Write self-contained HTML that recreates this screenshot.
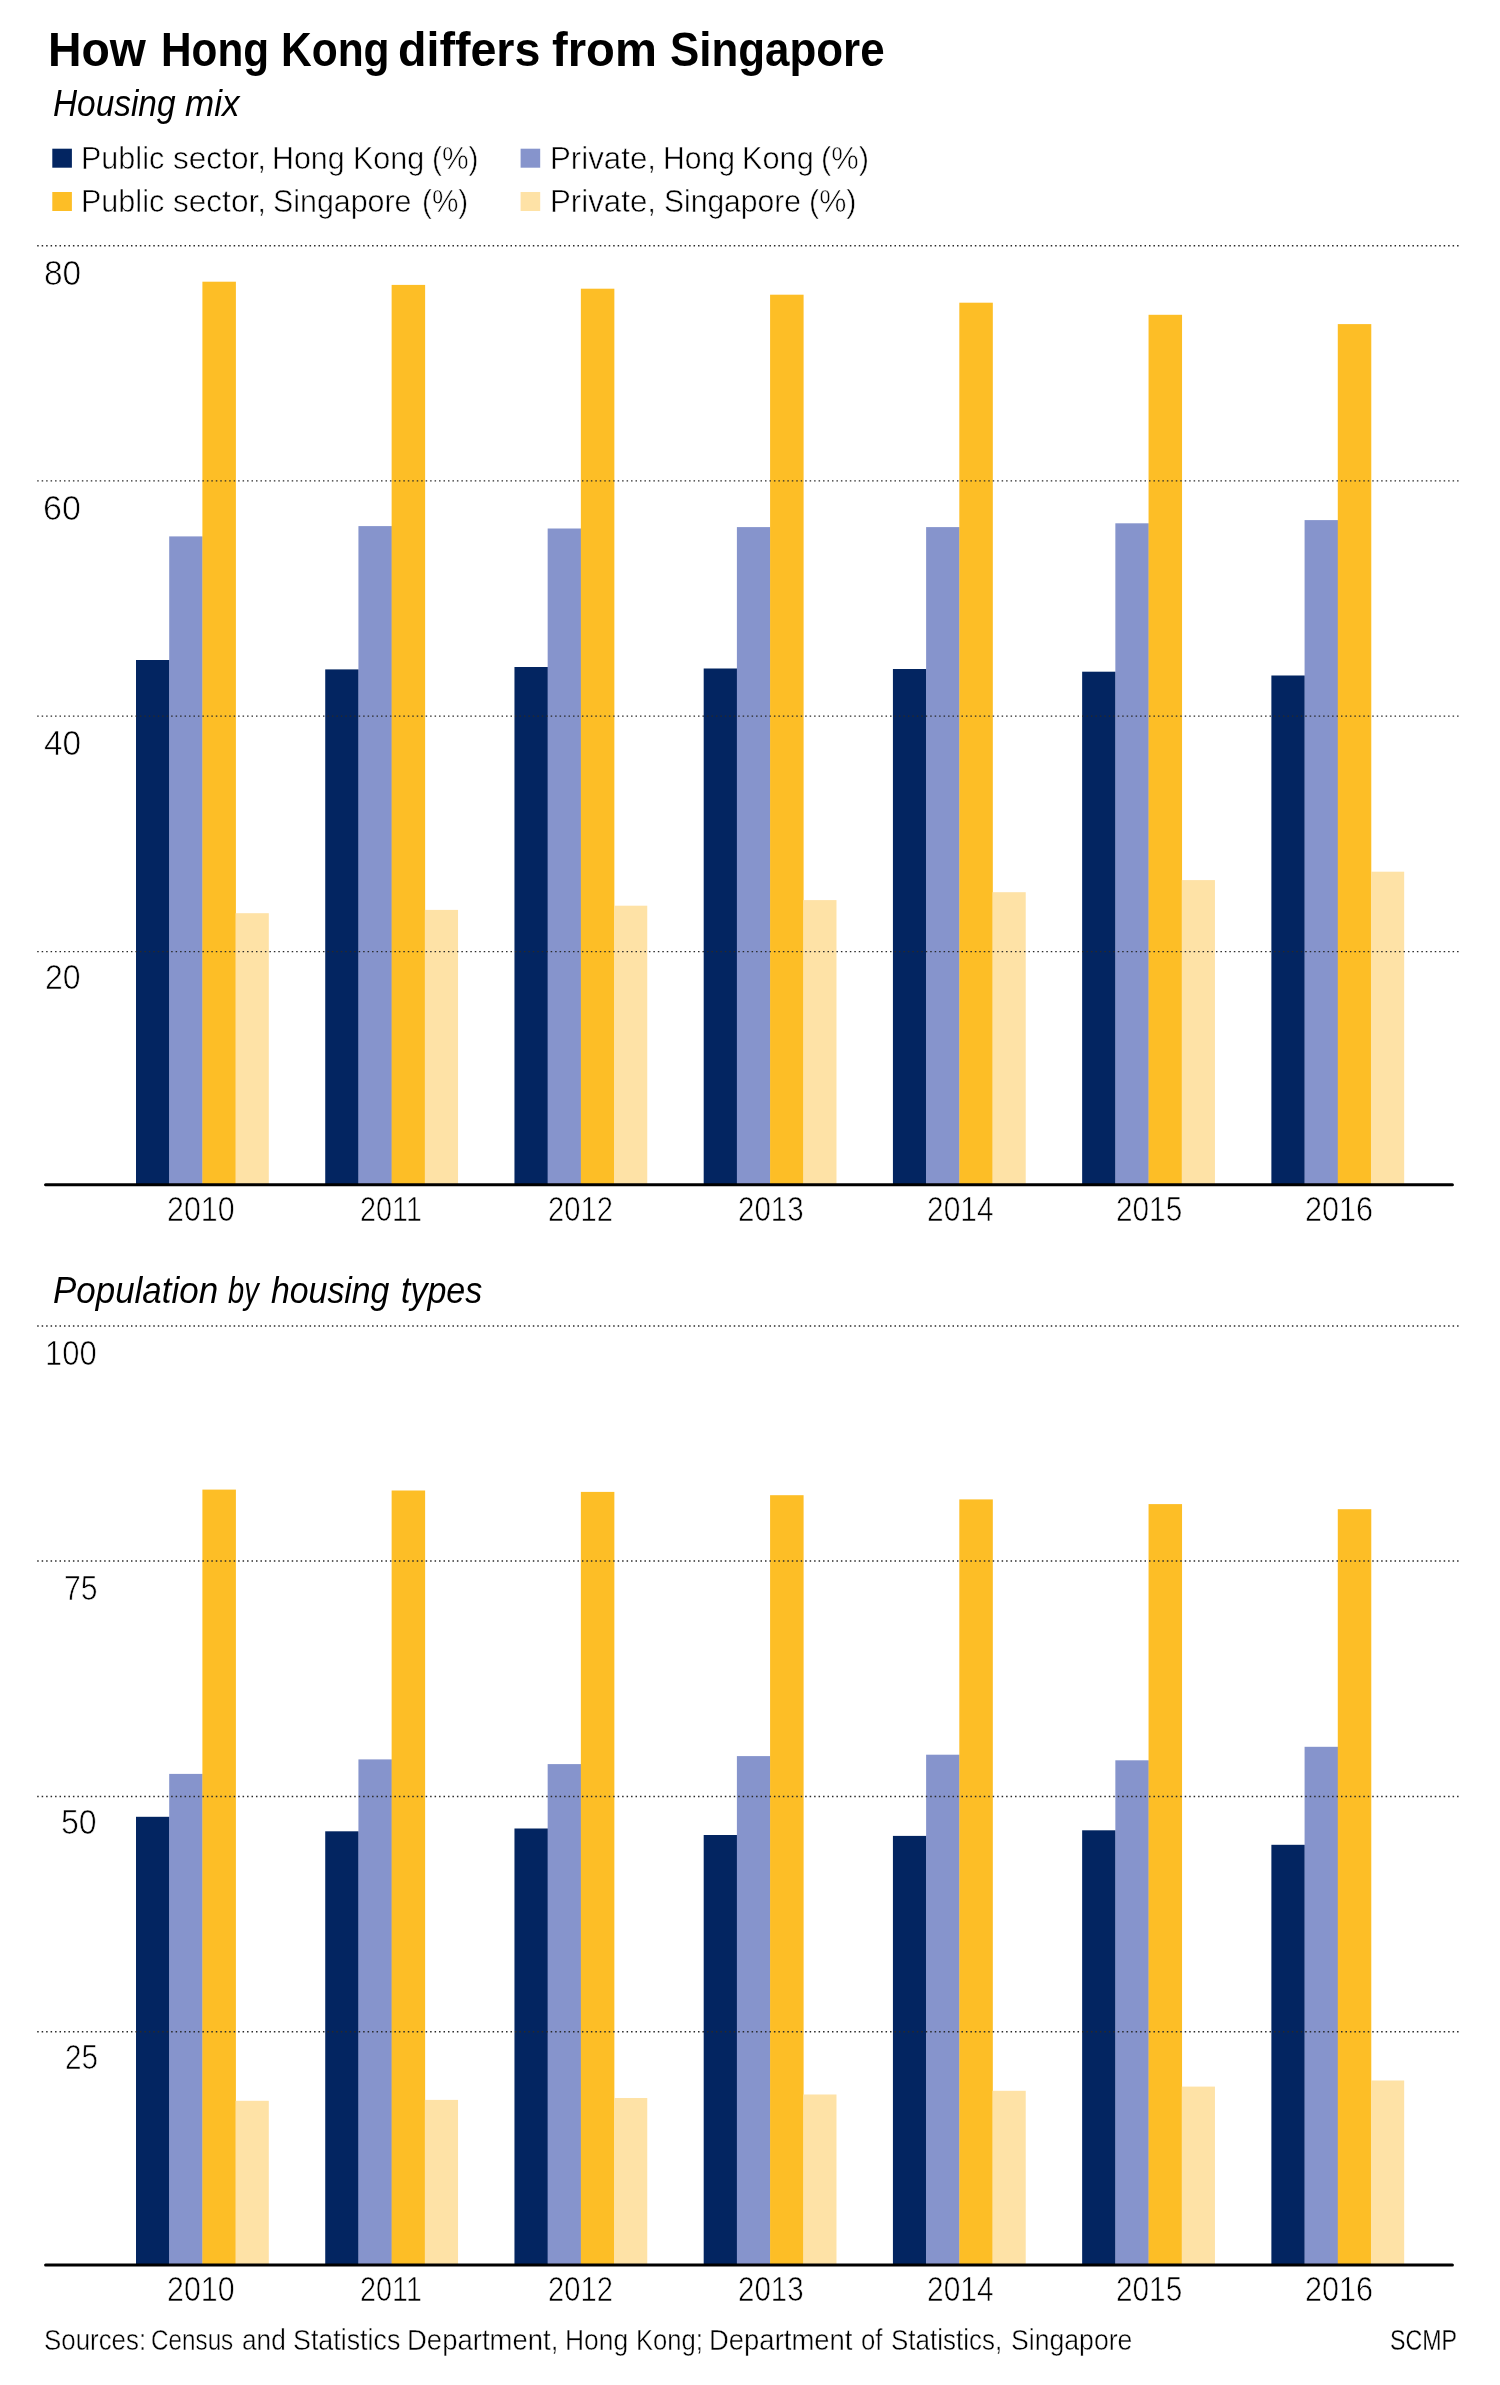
<!DOCTYPE html>
<html lang="en"><head><meta charset="utf-8"><title>How Hong Kong differs from Singapore</title>
<style>
html,body{margin:0;padding:0;background:#fff;}
body{width:1500px;height:2385px;position:relative;overflow:hidden;font-family:"Liberation Sans",sans-serif;}
#g{position:absolute;left:0;top:0;}
#tx{position:absolute;left:0;top:0;width:1500px;height:2385px;will-change:transform;}
h1,h2,div.r{margin:0;padding:0;position:absolute;left:0;top:0;font-weight:400;font-size:10px;}
.t{position:absolute;white-space:nowrap;line-height:1;transform-origin:0 0;display:block;}
.l .t,.l.t{-webkit-text-stroke:var(--e,0.70px) #fff;}
</style></head><body>
<svg id="g" width="1500" height="2385" viewBox="0 0 1500 2385">
<rect x="136.00" y="660.00" width="33.50" height="525.00" fill="#032561"/>
<rect x="169.20" y="536.40" width="33.50" height="648.60" fill="#8694cc"/>
<rect x="202.40" y="281.70" width="33.50" height="903.30" fill="#fdbe26"/>
<rect x="235.60" y="913.20" width="33.20" height="271.80" fill="#fee2a6"/>
<rect x="325.23" y="669.40" width="33.50" height="515.60" fill="#032561"/>
<rect x="358.43" y="526.10" width="33.50" height="658.90" fill="#8694cc"/>
<rect x="391.63" y="284.90" width="33.50" height="900.10" fill="#fdbe26"/>
<rect x="424.83" y="909.90" width="33.20" height="275.10" fill="#fee2a6"/>
<rect x="514.46" y="667.00" width="33.50" height="518.00" fill="#032561"/>
<rect x="547.66" y="528.50" width="33.50" height="656.50" fill="#8694cc"/>
<rect x="580.86" y="288.70" width="33.50" height="896.30" fill="#fdbe26"/>
<rect x="614.06" y="905.70" width="33.20" height="279.30" fill="#fee2a6"/>
<rect x="703.69" y="668.50" width="33.50" height="516.50" fill="#032561"/>
<rect x="736.89" y="527.10" width="33.50" height="657.90" fill="#8694cc"/>
<rect x="770.09" y="294.70" width="33.50" height="890.30" fill="#fdbe26"/>
<rect x="803.29" y="900.10" width="33.20" height="284.90" fill="#fee2a6"/>
<rect x="892.92" y="669.00" width="33.50" height="516.00" fill="#032561"/>
<rect x="926.12" y="527.10" width="33.50" height="657.90" fill="#8694cc"/>
<rect x="959.32" y="302.70" width="33.50" height="882.30" fill="#fdbe26"/>
<rect x="992.52" y="892.20" width="33.20" height="292.80" fill="#fee2a6"/>
<rect x="1082.15" y="671.70" width="33.50" height="513.30" fill="#032561"/>
<rect x="1115.35" y="523.30" width="33.50" height="661.70" fill="#8694cc"/>
<rect x="1148.55" y="314.80" width="33.50" height="870.20" fill="#fdbe26"/>
<rect x="1181.75" y="880.10" width="33.20" height="304.90" fill="#fee2a6"/>
<rect x="1271.38" y="675.50" width="33.50" height="509.50" fill="#032561"/>
<rect x="1304.58" y="520.10" width="33.50" height="664.90" fill="#8694cc"/>
<rect x="1337.78" y="324.10" width="33.50" height="860.90" fill="#fdbe26"/>
<rect x="1370.98" y="871.70" width="33.20" height="313.30" fill="#fee2a6"/>
<rect x="136.00" y="1816.80" width="33.50" height="448.20" fill="#032561"/>
<rect x="169.20" y="1773.90" width="33.50" height="491.10" fill="#8694cc"/>
<rect x="202.40" y="1489.60" width="33.50" height="775.40" fill="#fdbe26"/>
<rect x="235.60" y="2100.80" width="33.20" height="164.20" fill="#fee2a6"/>
<rect x="325.23" y="1831.30" width="33.50" height="433.70" fill="#032561"/>
<rect x="358.43" y="1759.40" width="33.50" height="505.60" fill="#8694cc"/>
<rect x="391.63" y="1490.50" width="33.50" height="774.50" fill="#fdbe26"/>
<rect x="424.83" y="2099.90" width="33.20" height="165.10" fill="#fee2a6"/>
<rect x="514.46" y="1828.50" width="33.50" height="436.50" fill="#032561"/>
<rect x="547.66" y="1764.10" width="33.50" height="500.90" fill="#8694cc"/>
<rect x="580.86" y="1491.90" width="33.50" height="773.10" fill="#fdbe26"/>
<rect x="614.06" y="2098.00" width="33.20" height="167.00" fill="#fee2a6"/>
<rect x="703.69" y="1835.00" width="33.50" height="430.00" fill="#032561"/>
<rect x="736.89" y="1756.10" width="33.50" height="508.90" fill="#8694cc"/>
<rect x="770.09" y="1495.20" width="33.50" height="769.80" fill="#fdbe26"/>
<rect x="803.29" y="2094.50" width="33.20" height="170.50" fill="#fee2a6"/>
<rect x="892.92" y="1835.90" width="33.50" height="429.10" fill="#032561"/>
<rect x="926.12" y="1754.70" width="33.50" height="510.30" fill="#8694cc"/>
<rect x="959.32" y="1499.40" width="33.50" height="765.60" fill="#fdbe26"/>
<rect x="992.52" y="2090.80" width="33.20" height="174.20" fill="#fee2a6"/>
<rect x="1082.15" y="1830.30" width="33.50" height="434.70" fill="#032561"/>
<rect x="1115.35" y="1760.30" width="33.50" height="504.70" fill="#8694cc"/>
<rect x="1148.55" y="1504.10" width="33.50" height="760.90" fill="#fdbe26"/>
<rect x="1181.75" y="2086.60" width="33.20" height="178.40" fill="#fee2a6"/>
<rect x="1271.38" y="1844.80" width="33.50" height="420.20" fill="#032561"/>
<rect x="1304.58" y="1746.80" width="33.50" height="518.20" fill="#8694cc"/>
<rect x="1337.78" y="1509.20" width="33.50" height="755.80" fill="#fdbe26"/>
<rect x="1370.98" y="2080.50" width="33.20" height="184.50" fill="#fee2a6"/>
<line x1="37.2" y1="245.8" x2="1459" y2="245.8" stroke="#2a2a2a" stroke-width="1.4" stroke-dasharray="1.5 2.965"/>
<line x1="37.2" y1="480.9" x2="1459" y2="480.9" stroke="#2a2a2a" stroke-width="1.4" stroke-dasharray="1.5 2.965"/>
<line x1="37.2" y1="716.1" x2="1459" y2="716.1" stroke="#2a2a2a" stroke-width="1.4" stroke-dasharray="1.5 2.965"/>
<line x1="37.2" y1="951.6" x2="1459" y2="951.6" stroke="#2a2a2a" stroke-width="1.4" stroke-dasharray="1.5 2.965"/>
<line x1="37.2" y1="1326.0" x2="1459" y2="1326.0" stroke="#2a2a2a" stroke-width="1.4" stroke-dasharray="1.5 2.965"/>
<line x1="37.2" y1="1561.0" x2="1459" y2="1561.0" stroke="#2a2a2a" stroke-width="1.4" stroke-dasharray="1.5 2.965"/>
<line x1="37.2" y1="1796.5" x2="1459" y2="1796.5" stroke="#2a2a2a" stroke-width="1.4" stroke-dasharray="1.5 2.965"/>
<line x1="37.2" y1="2031.7" x2="1459" y2="2031.7" stroke="#2a2a2a" stroke-width="1.4" stroke-dasharray="1.5 2.965"/>
<line x1="45.6" y1="1184.8" x2="1452.4" y2="1184.8" stroke="#000" stroke-width="3.1" stroke-linecap="round"/>
<line x1="45.6" y1="2264.95" x2="1452.4" y2="2264.95" stroke="#000" stroke-width="3.1" stroke-linecap="round"/>
<rect x="52.3" y="148.7" width="19.6" height="19" fill="#032561"/>
<rect x="520.6" y="148.7" width="19.6" height="19" fill="#8694cc"/>
<rect x="52.3" y="192.0" width="19.6" height="19" fill="#fdbe26"/>
<rect x="520.6" y="192.0" width="19.6" height="19" fill="#fee2a6"/>
</svg>
<main id="tx">
<h1 class="r" style="font-size:48.0px;color:#000;font-weight:700;"><span class="t" style="left:48.20px;top:26.31px;transform:scaleX(0.9656);">How</span> <span class="t" style="left:160.56px;top:26.31px;transform:scaleX(0.8811);">Hong</span> <span class="t" style="left:280.84px;top:26.31px;transform:scaleX(0.8854);">Kong</span> <span class="t" style="left:398.34px;top:26.31px;transform:scaleX(0.9703);">differs</span> <span class="t" style="left:551.86px;top:26.31px;transform:scaleX(0.9827);">from</span> <span class="t" style="left:669.81px;top:26.31px;transform:scaleX(0.9143);">Singapore</span></h1>
<h2 class="r i" style="font-size:36.0px;color:#000;font-style:italic;"><span class="t" style="left:52.98px;top:85.60px;transform:scaleX(0.9275);">Housing</span> <span class="t" style="left:184.65px;top:85.60px;transform:scaleX(0.9726);">mix</span></h2>
<div class="r l" style="font-size:32.0px;color:#000;--e:0.55px;"><span class="t" style="left:81.35px;top:141.70px;transform:scaleX(0.9545);">Public</span> <span class="t" style="left:172.84px;top:141.70px;transform:scaleX(0.9865);">sector,</span> <span class="t" style="left:272.37px;top:141.70px;transform:scaleX(0.9490);">Hong</span> <span class="t" style="left:352.95px;top:141.70px;transform:scaleX(0.9544);">Kong</span> <span class="t" style="left:431.84px;top:141.70px;transform:scaleX(0.9357);">(%)</span></div>
<div class="r l" style="font-size:32.0px;color:#000;--e:0.55px;"><span class="t" style="left:549.69px;top:141.70px;transform:scaleX(0.9773);">Private,</span> <span class="t" style="left:662.79px;top:141.70px;transform:scaleX(0.9392);">Hong</span> <span class="t" style="left:741.64px;top:141.70px;transform:scaleX(0.9601);">Kong</span> <span class="t" style="left:821.09px;top:141.70px;transform:scaleX(0.9640);">(%)</span></div>
<div class="r l" style="font-size:32.0px;color:#000;--e:0.55px;"><span class="t" style="left:81.35px;top:184.70px;transform:scaleX(0.9545);">Public</span> <span class="t" style="left:172.84px;top:184.70px;transform:scaleX(0.9865);">sector,</span> <span class="t" style="left:273.19px;top:184.70px;transform:scaleX(0.9494);">Singapore</span> <span class="t" style="left:421.75px;top:184.70px;transform:scaleX(0.9292);">(%)</span></div>
<div class="r l" style="font-size:32.0px;color:#000;--e:0.55px;"><span class="t" style="left:549.69px;top:184.70px;transform:scaleX(0.9773);">Private,</span> <span class="t" style="left:663.70px;top:184.70px;transform:scaleX(0.9382);">Singapore</span> <span class="t" style="left:809.21px;top:184.70px;transform:scaleX(0.9531);">(%)</span></div>
<h2 class="r i" style="font-size:36.0px;color:#000;font-style:italic;"><span class="t" style="left:52.65px;top:1273.10px;transform:scaleX(0.9702);">Population</span> <span class="t" style="left:227.70px;top:1273.10px;transform:scaleX(0.8070);">by</span> <span class="t" style="left:270.97px;top:1273.10px;transform:scaleX(0.9390);">housing</span> <span class="t" style="left:400.84px;top:1273.10px;transform:scaleX(0.9448);">types</span></h2>
<div class="r l" style="font-size:30.3px;color:#000;--e:0.45px;"><span class="t" style="left:43.70px;top:2324.81px;transform:scaleX(0.8541);">Sources:</span> <span class="t" style="left:151.38px;top:2324.81px;transform:scaleX(0.8007);">Census</span> <span class="t" style="left:241.79px;top:2324.81px;transform:scaleX(0.8661);">and</span> <span class="t" style="left:292.96px;top:2324.81px;transform:scaleX(0.8857);">Statistics</span> <span class="t" style="left:406.95px;top:2324.81px;transform:scaleX(0.9076);">Department,</span> <span class="t" style="left:565.24px;top:2324.81px;transform:scaleX(0.8716);">Hong</span> <span class="t" style="left:635.91px;top:2324.81px;transform:scaleX(0.8461);">Kong;</span> <span class="t" style="left:708.75px;top:2324.81px;transform:scaleX(0.9062);">Department</span> <span class="t" style="left:861.00px;top:2324.81px;transform:scaleX(0.8508);">of</span> <span class="t" style="left:891.00px;top:2324.81px;transform:scaleX(0.8572);">Statistics,</span> <span class="t" style="left:1010.97px;top:2324.81px;transform:scaleX(0.8789);">Singapore</span></div>
<div class="r l" style="font-size:30.3px;color:#000;--e:0.30px;"><span class="t" style="left:1389.86px;top:2324.81px;transform:scaleX(0.7645);">SCMP</span></div>
<div class="t l" style="left:43.82px;top:256.21px;font-size:35.5px;transform:scaleX(0.943);color:#000;">80</div>
<div class="t l" style="left:43.07px;top:491.21px;font-size:35.5px;transform:scaleX(0.958);color:#000;">60</div>
<div class="t l" style="left:43.65px;top:726.10px;font-size:35.5px;transform:scaleX(0.942);color:#000;">40</div>
<div class="t l" style="left:45.18px;top:960.30px;font-size:35.5px;transform:scaleX(0.902);color:#000;">20</div>
<div class="t l" style="left:45.46px;top:1335.91px;font-size:35.5px;transform:scaleX(0.871);color:#000;">100</div>
<div class="t l" style="left:64.19px;top:1570.71px;font-size:35.5px;transform:scaleX(0.849);color:#000;">75</div>
<div class="t l" style="left:61.48px;top:1805.41px;font-size:35.5px;transform:scaleX(0.902);color:#000;">50</div>
<div class="t l" style="left:64.61px;top:2039.91px;font-size:35.5px;transform:scaleX(0.838);color:#000;">25</div>
<div class="t l" style="left:167.48px;top:1192.21px;font-size:35.5px;transform:scaleX(0.856);color:#000;">2010</div>
<div class="t l" style="left:359.66px;top:1192.21px;font-size:35.5px;transform:scaleX(0.812);color:#000;">2011</div>
<div class="t l" style="left:548.05px;top:1192.21px;font-size:35.5px;transform:scaleX(0.821);color:#000;">2012</div>
<div class="t l" style="left:737.93px;top:1192.21px;font-size:35.5px;transform:scaleX(0.831);color:#000;">2013</div>
<div class="t l" style="left:926.50px;top:1192.21px;font-size:35.5px;transform:scaleX(0.843);color:#000;">2014</div>
<div class="t l" style="left:1116.31px;top:1192.21px;font-size:35.5px;transform:scaleX(0.838);color:#000;">2015</div>
<div class="t l" style="left:1305.16px;top:1192.21px;font-size:35.5px;transform:scaleX(0.862);color:#000;">2016</div>
<div class="t l" style="left:167.48px;top:2272.21px;font-size:35.5px;transform:scaleX(0.856);color:#000;">2010</div>
<div class="t l" style="left:359.66px;top:2272.21px;font-size:35.5px;transform:scaleX(0.812);color:#000;">2011</div>
<div class="t l" style="left:548.05px;top:2272.21px;font-size:35.5px;transform:scaleX(0.821);color:#000;">2012</div>
<div class="t l" style="left:737.93px;top:2272.21px;font-size:35.5px;transform:scaleX(0.831);color:#000;">2013</div>
<div class="t l" style="left:926.50px;top:2272.21px;font-size:35.5px;transform:scaleX(0.843);color:#000;">2014</div>
<div class="t l" style="left:1116.31px;top:2272.21px;font-size:35.5px;transform:scaleX(0.838);color:#000;">2015</div>
<div class="t l" style="left:1305.16px;top:2272.21px;font-size:35.5px;transform:scaleX(0.862);color:#000;">2016</div>
</main>
</body></html>
